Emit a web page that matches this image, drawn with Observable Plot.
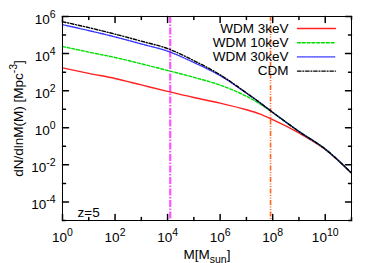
<!DOCTYPE html>
<html>
<head>
<meta charset="utf-8">
<script src="https://cdn.jsdelivr.net/npm/d3@7"></script>
<script src="https://cdn.jsdelivr.net/npm/@observablehq/plot@0.6"></script>
<style>
  html, body { margin: 0; padding: 0; background: #fff; }
  #chart { width: 375px; height: 263px; }
</style>
</head>
<body>
<div id="chart"></div>
<script>
// halo mass grid [M_sun]
const masses = [1, 1e1, 1e2, 1e3, 1e4, 1e5, 1e6, 1e7, 3.16e7, 1e8, 1e9, 1e10, 1e11];
// dN/dlnM [Mpc^-3]
const wdm3 = [1.70e3, 851, 457, 204, 91.2, 42.7, 21.4, 9.33, 5.62, 2.75, 0.525, 0.0676, 0.00355];
const wdm10 = [2.40e4, 1.20e4, 6.17e3, 2.82e3, 1.23e3, 525, 200, 50.1, 20.0, 6.76, 0.631, 0.0708, 0.00363];
const wdm30 = [3.63e5, 1.74e5, 7.94e4, 3.31e4, 1.35e4, 3.31e3, 646, 74.1, 23.4, 6.76, 0.631, 0.0708, 0.00363];
const cdm = [5.25e5, 2.51e5, 1.12e5, 4.68e4, 1.86e4, 4.17e3, 724, 75.9, 23.4, 6.76, 0.631, 0.0708, 0.00363];
const seriesNames = ["WDM 3keV", "WDM 10keV", "WDM 30keV", "CDM"];
const seriesValues = [wdm3, wdm10, wdm30, cdm];
const seriesColors = ["#ff2020", "#00e000", "#3333ff", "#000000"];
const seriesDash = [null, "3,1.8", "1.2,1.2", "3.5,1.8,1,1.8"];
// vertical marker lines
const markerMasses = [1.26e4, 8.3e7];
const markerColors = ["#ff55ff", "#ff6622"];
const markerDash = ["7,1.5,1.5,1.5", "5,1.5,1,1.5,1,1.5"];
// axis ticks
const xMajor = [1, 1e2, 1e4, 1e6, 1e8, 1e10];
const xMinor = [1e1, 1e3, 1e5, 1e7, 1e9, 1e11];
const yMajor = [1e-4, 1e-2, 1, 1e2, 1e4, 1e6];
const yMinor = [1e-5, 1e-3, 1e-1, 1e1, 1e3, 1e5];
const xLabel = "M[M_{sun}]";
const yLabel = "dN/dlnM(M) [Mpc^{-3}]";
const annotation = "z=5";

const table = [];
seriesNames.forEach((name, i) => masses.forEach((m, j) => table.push({name, m, v: seriesValues[i][j]})));

const expFmt = d => "10^{" + Math.round(Math.log10(d)) + "}";
const lineShape = {draw(context, l) { context.moveTo(0, 0); context.lineTo(0, -l); }};

function tickMarks(values, len) {
  return [
    Plot.vector(values, {x: d => d, frameAnchor: "bottom", rotate: 0, length: len, anchor: "start", shape: lineShape, stroke: "#000"}),
    Plot.vector(values, {x: d => d, frameAnchor: "top", rotate: 180, length: len, anchor: "start", shape: lineShape, stroke: "#000"})
  ];
}
function tickMarksY(values, len) {
  return [
    Plot.vector(values, {y: d => d, frameAnchor: "left", rotate: 90, length: len, anchor: "start", shape: lineShape, stroke: "#000"}),
    Plot.vector(values, {y: d => d, frameAnchor: "right", rotate: -90, length: len, anchor: "start", shape: lineShape, stroke: "#000"})
  ];
}

const marks = [
  ...markerMasses.map((m, i) => Plot.ruleX([m], {stroke: markerColors[i], strokeWidth: i === 0 ? 2.2 : 1.6, strokeDasharray: markerDash[i]})),
  ...seriesNames.map((name, i) => Plot.line(table.filter(d => d.name === name), {
    x: "m", y: "v", stroke: seriesColors[i], strokeWidth: 1.4, strokeDasharray: seriesDash[i], curve: "monotone-x"
  })),
  ...tickMarks(xMajor, 6), ...tickMarks(xMinor, 3),
  ...tickMarksY(yMajor, 6), ...tickMarksY(yMinor, 3),
  Plot.frame({stroke: "#000", strokeWidth: 1}),
  Plot.axisX({ticks: xMajor, tickSize: 0, tickPadding: 12, tickFormat: expFmt, fill: "#000", label: null}),
  Plot.axisY({ticks: yMajor, tickSize: 0, tickPadding: 7, tickFormat: expFmt, dy: 3, fill: "#000", label: null}),
  ...seriesNames.map((name, i) => Plot.text([name], {frameAnchor: "top-right", dx: -63, dy: 12 + 14.2 * i, textAnchor: "end", lineAnchor: "middle", fill: "#000"})),
  ...seriesNames.map((name, i) => Plot.vector([name], {frameAnchor: "top-right", dx: -54, dy: 12 + 14.2 * i, rotate: 90, length: 38, anchor: "start", shape: lineShape, stroke: seriesColors[i], strokeWidth: 1.4, strokeDasharray: seriesDash[i]})),
  Plot.text([annotation], {frameAnchor: "bottom-left", dx: 15, dy: -4, textAnchor: "start", lineAnchor: "bottom", fill: "#000"}),
  Plot.text([xLabel], {frameAnchor: "bottom", dy: 38, textAnchor: "middle", lineAnchor: "bottom", fill: "#000"}),
  Plot.text([yLabel], {frameAnchor: "left", dx: -44, rotate: -90, textAnchor: "middle", lineAnchor: "middle", fill: "#000"})
];

const chart = Plot.plot({
  width: 375,
  height: 263,
  marginLeft: 62,
  marginRight: 24,
  marginTop: 16,
  marginBottom: 43,
  x: {type: "log", domain: [1, 1e11], axis: null},
  y: {type: "log", domain: [1e-5, 1e6], axis: null},
  style: {fontFamily: "'Liberation Sans', Arial, sans-serif", fontSize: "13.5px", background: "#fff", color: "#000"},
  marks
});

// render ^{...} and _{...} as real super/subscript tspans
function richText(svg) {
  const NS = "http://www.w3.org/2000/svg";
  svg.querySelectorAll("text").forEach(t => {
    const s = t.textContent;
    if (!/[\^_]\{/.test(s)) return;
    while (t.firstChild) t.removeChild(t.firstChild);
    const re = /([\^_])\{([^}]*)\}|([^\^_]+)/g;
    let m, shift = 0;
    while ((m = re.exec(s))) {
      const ts = document.createElementNS(NS, "tspan");
      if (m[3] !== undefined) {
        ts.textContent = m[3];
        if (shift) { ts.setAttribute("dy", -shift); shift = 0; }
      } else {
        const off = m[1] === "^" ? -6 : 4;
        ts.textContent = m[2];
        ts.setAttribute("dy", off - shift);
        ts.setAttribute("font-size", "10.5px");
        shift = off;
      }
      t.appendChild(ts);
    }
  });
}
richText(chart);
document.getElementById("chart").appendChild(chart);
</script>
</body>
</html>
